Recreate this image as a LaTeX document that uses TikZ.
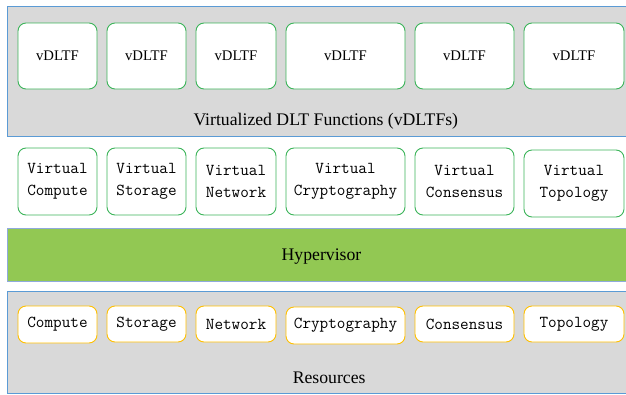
\documentclass[tikz,border=0pt]{standalone}
\usepackage{fontspec}
\setmainfont{Liberation Serif}
\definecolor{layergray}{HTML}{D9D9D9}
\definecolor{layerblue}{HTML}{5B9BD5}
\definecolor{hyperblue}{HTML}{8FAADC}
\definecolor{hypergreen}{HTML}{92C853}
\definecolor{boxgreen}{HTML}{3CB45A}
\definecolor{boxgold}{HTML}{FFC000}
\begin{document}
\begin{tikzpicture}[x=1pt,y=-1pt,
  layer/.style={draw=layerblue, fill=layergray, line width=1pt, anchor=north west, inner sep=0pt},
  hyper/.style={draw=hyperblue, fill=hypergreen, line width=1pt, anchor=north west, inner sep=0pt},
  fbox/.style={draw=boxgreen, fill=white, line width=0.9pt, rounded corners=8pt, inner sep=0pt,
    align=center, font=\ttfamily\fontsize{16.7}{22}\selectfont},
  vbox/.style={fbox, font=\rmfamily\fontsize{14.7}{18}\selectfont},
  rbox/.style={fbox, draw=boxgold},
  lbl/.style={font=\fontsize{17.7}{20}\selectfont, inner sep=0pt, anchor=base}
]
\useasboundingbox (0,0) rectangle (626,394);
% layers
\node[layer, minimum width=623pt, minimum height=130pt] (vlayer) at (7,6) {};
\node[hyper, minimum width=623pt, minimum height=53pt] (hlayer) at (7,228) {};
\node[layer, minimum width=623pt, minimum height=102pt] (rlayer) at (7,291) {};
% labels
\node[lbl] (vlabel) at (325.8,125) {Virtualized DLT Functions (vDLTFs)};
\node[lbl] (hlabel) at (321.5,260) {Hypervisor};
\node[lbl] (rlabel) at (329.2,383.3) {Resources};
% top row
\node[vbox, minimum width=79pt, minimum height=66pt] (f1) at (57.5,56) {vDLTF};
\node[vbox, minimum width=79pt, minimum height=66pt] (f2) at (146.5,56) {vDLTF};
\node[vbox, minimum width=80pt, minimum height=66pt] (f3) at (236,56) {vDLTF};
\node[vbox, minimum width=119pt, minimum height=66pt] (f4) at (345.5,56) {vDLTF};
\node[vbox, minimum width=99pt, minimum height=66pt] (f5) at (464.5,56) {vDLTF};
\node[vbox, minimum width=100pt, minimum height=66pt] (f6) at (574,56) {vDLTF};
% middle row
\node[fbox, minimum width=79pt, minimum height=67pt] (v1) at (57.5,181.5) {Virtual\\Compute};
\node[fbox, minimum width=79pt, minimum height=67pt] (v2) at (146.5,181.5) {Virtual\\Storage};
\node[fbox, minimum width=80pt, minimum height=67pt] (v3) at (236,181.5) {Virtual\\Network};
\node[fbox, minimum width=119pt, minimum height=67pt] (v4) at (345.5,181.5) {Virtual\\Cryptography};
\node[fbox, minimum width=99pt, minimum height=67pt] (v5) at (464.5,181.5) {Virtual\\Consensus};
\node[fbox, minimum width=100pt, minimum height=67pt] (v6) at (574,183.5) {Virtual\\Topology};
% bottom row
\node[rbox, minimum width=79pt, minimum height=37pt] (r1) at (57.5,324.5) {Compute};
\node[rbox, minimum width=79pt, minimum height=36pt] (r2) at (146.5,324) {Storage};
\node[rbox, minimum width=80pt, minimum height=36pt] (r3) at (236,324) {Network};
\node[rbox, minimum width=119pt, minimum height=37pt] (r4) at (345.5,325.5) {Cryptography};
\node[rbox, minimum width=99pt, minimum height=36pt] (r5) at (464.5,324) {Consensus};
\node[rbox, minimum width=100pt, minimum height=36pt] (r6) at (574,324) {Topology};
\end{tikzpicture}
\end{document}
